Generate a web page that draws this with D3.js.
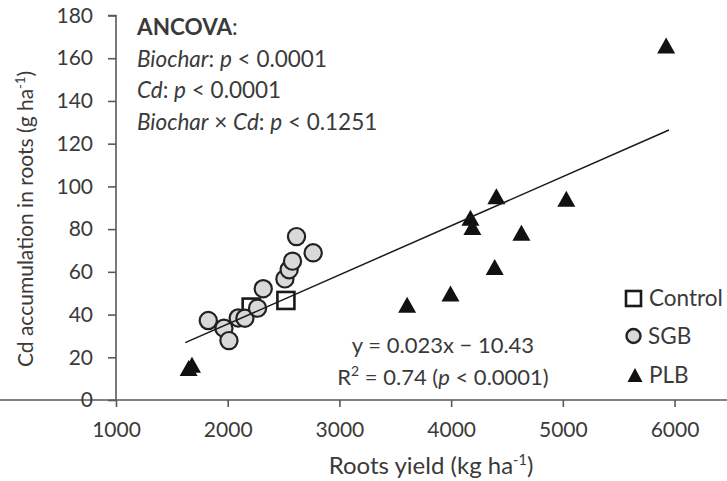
<!DOCTYPE html>
<html>
<head>
<meta charset="utf-8">
<script src="https://cdn.jsdelivr.net/npm/d3@7"></script>
<style>
  html, body { margin: 0; padding: 0; background: #fff; }
  svg { display: block; font-family: Lato, "Open Sans", sans-serif; }
</style>
</head>
<body>
<svg id="chart" width="727" height="481"></svg>
<script>
// Roots yield (kg/ha) vs Cd accumulation in roots (g/ha)
const controlX = [2210, 2521];
const controlY = [43.5, 46.6];

const sgbX = [1826, 1966, 2011, 2094, 2154, 2267, 2318, 2512, 2550, 2580, 2616, 2765];
const sgbY = [37.2, 33.6, 27.8, 38.4, 38.3, 43.0, 52.1, 56.7, 61.0, 65.0, 76.5, 68.9];

const plbX = [1650, 1680, 3606, 3994, 4390, 4173, 4190, 4629, 4405, 5031, 5925];
const plbY = [15.0, 16.5, 44.6, 49.8, 62.3, 85.3, 81.0, 78.3, 95.4, 94.2, 165.9];

const xTicks = [1000, 2000, 3000, 4000, 5000, 6000];
const yTicks = [0, 20, 40, 60, 80, 100, 120, 140, 160, 180];

// fitted regression: y = 0.023x - 10.43
const fitSlope = 0.023;
const fitIntercept = -10.43;
const fitRange = [1620, 5950];

const svg = d3.select("#chart");
const textColor = "#3a3a3a";
const axisColor = "#595959";

const x = d3.scaleLinear().domain([1000, 6500]).range([116, 730.4]);
const y = d3.scaleLinear().domain([0, 180]).range([400, 15.5]);

// axes
const xAxis = svg.append("g")
  .attr("transform", `translate(0,${y(0)})`)
  .call(d3.axisBottom(x).tickValues(xTicks).tickSize(7).tickPadding(15).tickFormat(d3.format("d")));
const yAxis = svg.append("g")
  .attr("transform", `translate(${x(1000)},0)`)
  .call(d3.axisLeft(y).tickValues(yTicks).tickSize(8).tickPadding(15).tickFormat(d3.format("d")));

[xAxis, yAxis].forEach(g => {
  g.select(".domain").attr("stroke", axisColor).attr("stroke-width", 1.6);
  g.selectAll(".tick line").attr("stroke", axisColor).attr("stroke-width", 1.6);
  g.selectAll(".tick text").attr("fill", textColor).attr("font-size", 21)
    .attr("font-family", "Lato, 'Open Sans', sans-serif");
});
yAxis.select(".domain").attr("d", `M-8,${y(180)}H0V${y(0)}`);
xAxis.select(".domain").attr("d", `M0,0H${x(6500)}`);

// axis titles
const xTitle = svg.append("text")
  .attr("x", 431).attr("y", 474)
  .attr("text-anchor", "middle").attr("font-size", 24).attr("fill", textColor);
xTitle.append("tspan").text("Roots yield (kg ha");
xTitle.append("tspan").attr("dy", -9).attr("font-size", 14.5).text("-1");
xTitle.append("tspan").attr("dy", 9).text(")");

const yTitle = svg.append("text")
  .attr("transform", `translate(33,219) rotate(-90)`)
  .attr("text-anchor", "middle").attr("font-size", 21).attr("fill", textColor);
yTitle.append("tspan").text("Cd accumulation in roots (g ha");
yTitle.append("tspan").attr("dy", -8).attr("font-size", 13).text("-1");
yTitle.append("tspan").attr("dy", 8).text(")");

// ANCOVA summary
const ann = svg.append("g").attr("fill", textColor).attr("font-size", 22.5);
const l0 = ann.append("text").attr("x", 137).attr("y", 35);
l0.append("tspan").attr("font-weight", "bold").text("ANCOVA");
l0.append("tspan").text(":");
const l1 = ann.append("text").attr("x", 137).attr("y", 67);
l1.append("tspan").attr("font-style", "italic").text("Biochar");
l1.append("tspan").text(": ");
l1.append("tspan").attr("font-style", "italic").text("p");
l1.append("tspan").text(" < 0.0001");
const l2 = ann.append("text").attr("x", 137).attr("y", 98);
l2.append("tspan").attr("font-style", "italic").text("Cd");
l2.append("tspan").text(": ");
l2.append("tspan").attr("font-style", "italic").text("p");
l2.append("tspan").text(" < 0.0001");
const l3 = ann.append("text").attr("x", 137).attr("y", 130);
l3.append("tspan").attr("font-style", "italic").text("Biochar");
l3.append("tspan").text(" × ");
l3.append("tspan").attr("font-style", "italic").text("Cd");
l3.append("tspan").text(": ");
l3.append("tspan").attr("font-style", "italic").text("p");
l3.append("tspan").text(" < 0.1251");

// markers
const triPath = (w, h) => `M0,${-h / 2}L${w / 2},${h / 2}L${-w / 2},${h / 2}Z`;

const controlData = controlX.map((v, i) => ({ x: v, y: controlY[i] }));
const sgbData = sgbX.map((v, i) => ({ x: v, y: sgbY[i] }));
const plbData = plbX.map((v, i) => ({ x: v, y: plbY[i] }));

svg.append("g").selectAll("rect").data(controlData).join("rect")
  .attr("x", d => x(d.x) - 8.5).attr("y", d => y(d.y) - 8.5)
  .attr("width", 17).attr("height", 17)
  .attr("fill", "#fff").attr("stroke", "#1a1a1a").attr("stroke-width", 2.6);

svg.append("g").selectAll("circle").data(sgbData).join("circle")
  .attr("cx", d => x(d.x)).attr("cy", d => y(d.y)).attr("r", 8.6)
  .attr("fill", "#d9d9d9").attr("stroke", "#222").attr("stroke-width", 2.2);

svg.append("g").selectAll("path").data(plbData).join("path")
  .attr("transform", d => `translate(${x(d.x)},${y(d.y)})`)
  .attr("d", triPath(18, 16)).attr("fill", "#111");

// regression line
svg.append("line")
  .attr("x1", x(fitRange[0])).attr("y1", y(fitSlope * fitRange[0] + fitIntercept))
  .attr("x2", x(fitRange[1])).attr("y2", y(fitSlope * fitRange[1] + fitIntercept))
  .attr("stroke", "#1a1a1a").attr("stroke-width", 1.5);

// equation
const eq = svg.append("g").attr("fill", textColor).attr("font-size", 22).attr("text-anchor", "middle");
eq.append("text").attr("x", 443).attr("y", 353).text("y = 0.023x − 10.43");
const r2 = eq.append("text").attr("x", 443).attr("y", 385);
r2.append("tspan").text("R");
r2.append("tspan").attr("dy", -9).attr("font-size", 14).text("2");
r2.append("tspan").attr("dy", 9).text(" = 0.74 (");
r2.append("tspan").attr("font-style", "italic").text("p");
r2.append("tspan").text(" < 0.0001)");

// legend
const lg = svg.append("g").attr("fill", textColor).attr("font-size", 22.5);
lg.append("rect").attr("x", 626).attr("y", 291).attr("width", 15).attr("height", 15)
  .attr("fill", "#fff").attr("stroke", "#1a1a1a").attr("stroke-width", 2.6);
lg.append("text").attr("x", 649).attr("y", 306).text("Control");
lg.append("circle").attr("cx", 633.5).attr("cy", 336).attr("r", 7)
  .attr("fill", "#d9d9d9").attr("stroke", "#222").attr("stroke-width", 2.4);
lg.append("text").attr("x", 648).attr("y", 344).text("SGB");
lg.append("path").attr("transform", "translate(635,375)").attr("d", triPath(15, 14)).attr("fill", "#111");
lg.append("text").attr("x", 649).attr("y", 383).text("PLB");
</script>
</body>
</html>
